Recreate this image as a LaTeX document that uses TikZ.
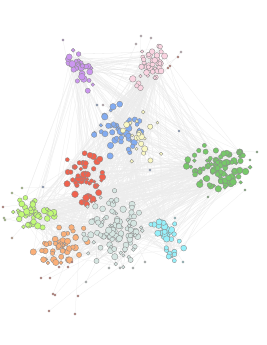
\documentclass[tikz,border=0pt]{standalone}
\pgfdeclarelayer{bg}
\pgfsetlayers{bg,main}
\definecolor{cpurple}{RGB}{204,150,240}
\definecolor{cpink}{RGB}{250,212,225}
\definecolor{cblue}{RGB}{130,172,242}
\definecolor{cyellow}{RGB}{250,248,195}
\definecolor{cred}{RGB}{240,98,78}
\definecolor{cgreen}{RGB}{118,200,105}
\definecolor{clime}{RGB}{192,250,118}
\definecolor{corange}{RGB}{250,175,120}
\definecolor{cgrey}{RGB}{214,230,226}
\definecolor{ccyan}{RGB}{150,240,250}
\tikzset{
  vtx/.style={circle, inner sep=0pt, draw=black!45, line width=0.35pt},
  lnk/.style={draw=black!9, line width=0.3pt},
  far/.style={draw=black!7, line width=0.25pt}
}
\newcommand\mycluster[9]{%
  \foreach \i in {#1,...,#2}{%
    \pgfmathsetmacro\rr{rnd^0.8}%
    \pgfmathsetmacro\tt{360*rnd}%
    \pgfmathsetmacro\u{#5*\rr*cos(\tt)}%
    \pgfmathsetmacro\v{#6*\rr*sin(\tt)}%
    \pgfmathsetmacro\px{#3+\u*cos(#7)-\v*sin(#7)}%
    \pgfmathsetmacro\py{#4+\u*sin(#7)+\v*cos(#7)}%
    \pgfmathsetmacro\dd{#9+3.4*rnd}%
    \node[vtx, fill=#8, minimum size=\dd pt] (n\i) at (\px,\py) {};
  }}
\begin{document}
\begin{tikzpicture}[x=1pt,y=-1pt]
\pgfmathsetseed{4242}
\useasboundingbox (0,0) rectangle (267,345);
% clusters
\mycluster{1}{35}{80}{67}{11}{26}{-25}{cpurple}{3.4}
\mycluster{36}{75}{148}{66}{14}{26}{30}{cpink}{3.4}
\mycluster{76}{120}{118}{131}{25}{27}{0}{cblue}{3.2}
\mycluster{121}{142}{142}{137}{24}{28}{0}{cyellow}{2.8}
\mycluster{143}{192}{84}{176}{20}{30}{0}{cred}{3.4}
\mycluster{193}{287}{218}{166}{33}{23}{0}{cgreen}{3.4}
\mycluster{288}{337}{34}{213}{22}{17}{0}{clime}{3.4}
\mycluster{338}{387}{62}{245}{32}{18}{-20}{corange}{3.2}
\mycluster{388}{487}{113}{230}{32}{40}{0}{cgrey}{3.2}
\mycluster{488}{522}{166}{235}{14}{30}{-30}{ccyan}{3.4}
% outliers
\foreach \x/\y/\c [count=\j] in {
  41/278/cred, 50/278/cred, 53/294/cred, 55/295/cred, 78/296/cred,
  49/311/cred, 75/314/cred, 59/267/cred, 68/267/cred, 72/262/cred,
  168/68/cred, 170/66/cred, 178/57/cred, 3/207/cred, 12/238/corange,
  141/36/cpink, 151/38/cpink, 136/44/cpink, 181/52/cpink, 63/40/cpurple,
  257/152/cgreen, 250/160/cgreen, 245/190/cgreen, 208/197/cgreen,
  86/282/cgrey, 120/268/cgrey, 133/268/cgrey, 145/262/cgrey, 109/268/cgrey,
  5/220/clime, 12/193/clime, 22/188/clime, 4/218/clime,
  172/257/ccyan, 183/262/ccyan, 175/218/ccyan, 43/187/cblue, 179/131/cblue,
  97/105/cblue, 103/105/cpink, 150/170/cblue}{
  \node[vtx, fill=\c, minimum size=2.2pt] (o\j) at (\x,\y) {};
}
\begin{pgfonlayer}{bg}
\fill[white] (0,0) rectangle (267,345);
\foreach \k in {1,...,900}{
  \pgfmathtruncatemacro\a{random(1,522)}
  \pgfmathtruncatemacro\b{min(522,max(1,\a+random(0,40)-20))}
  \draw[lnk] (n\a.center) -- (n\b.center);
}
\foreach \k in {1,...,600}{
  \pgfmathtruncatemacro\a{random(1,522)}
  \pgfmathtruncatemacro\b{random(1,522)}
  \draw[far] (n\a.center) -- (n\b.center);
}
\foreach \k in {1,...,41}{
  \pgfmathtruncatemacro\a{random(1,522)}
  \draw[far] (o\k.center) -- (n\a.center);
}
\end{pgfonlayer}
\end{tikzpicture}
\end{document}
